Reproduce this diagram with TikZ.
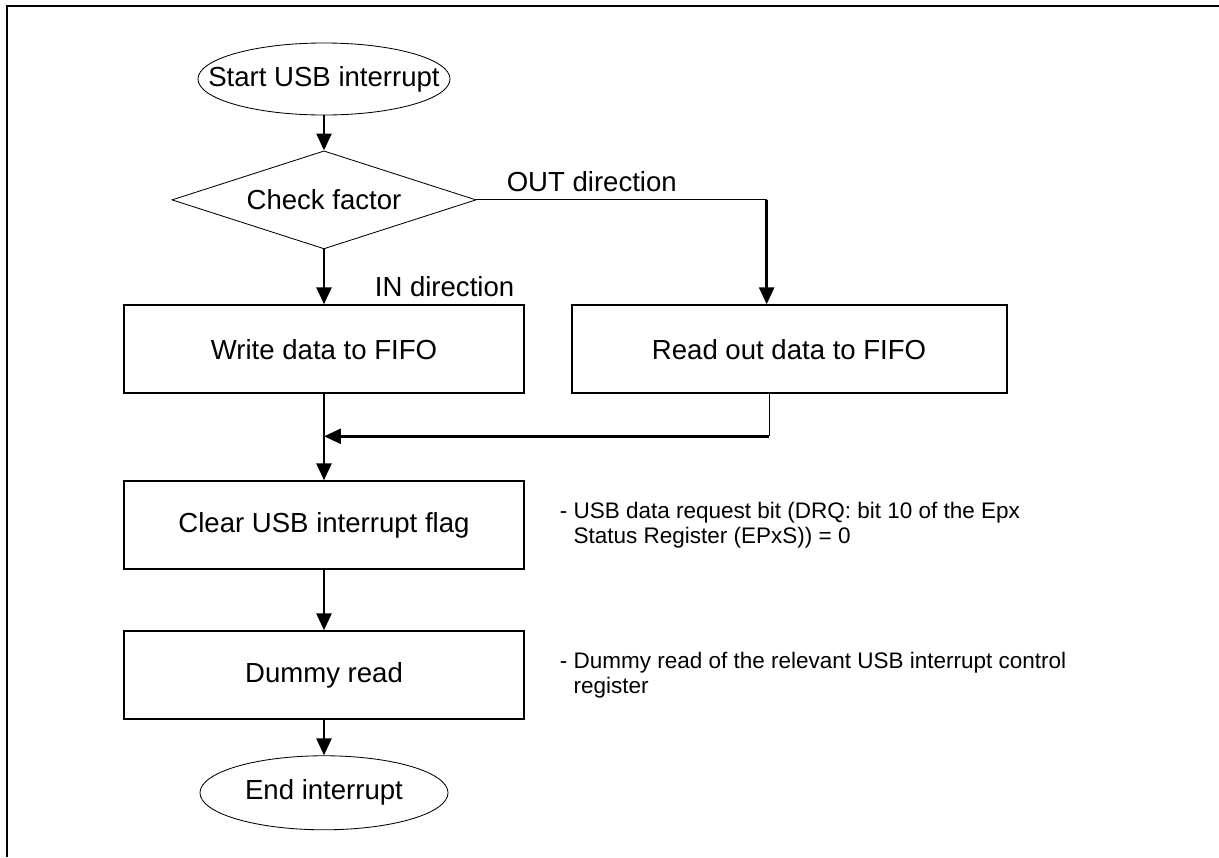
\documentclass[tikz,border=0pt]{standalone}
\usepackage{fontspec}
\setmainfont{Liberation Sans}
\usetikzlibrary{arrows.meta,positioning,shapes.geometric,calc}

\begin{document}
\begin{tikzpicture}[
        x=0.025cm, y=-0.025cm,
        every node/.style={font=\fontsize{19.6}{22}\selectfont},
        proc/.style={draw, line width=1.4pt, minimum width=9.975cm, minimum height=2.2cm, inner sep=0pt},
        term/.style={ellipse, draw, line width=0.6pt, inner sep=0pt},
        decide/.style={diamond, draw, line width=0.6pt, shape aspect=3.1, minimum width=7.6cm, minimum height=2.45cm, inner sep=0pt},
        flow/.style={-{Triangle[length=12pt,width=10.5pt]}, line width=2.1pt},
        feed/.style={line width=0.7pt},
        lbl/.style={inner sep=0pt},
        note/.style={inner sep=0pt, align=left, font=\fontsize{16}{17.4}\selectfont},
        frame/.style={line width=1.6pt}
      ]
        \useasboundingbox (0,0) rectangle (1219,857);
        \draw[frame] (7,857) -- (7,6) -- (1219,6);

        \node[term, minimum width=6.3cm, minimum height=1.8cm] (start) at (324,79) {\makebox[0pt]{Start USB interrupt}};
        \node[decide, below=0.875cm of start] (chk) {Check factor};
        \node[proc, below=1.375cm of chk] (write) {Write data to FIFO};
        \node[proc, right=1.15cm of write, minimum width=10.875cm] (read) {Read out data to FIFO};
        \node[proc, below=2.15cm of write] (clear) {Clear USB interrupt flag};
        \node[proc, below=1.5cm of clear] (dummy) {Dummy read};
        \node[term, below=0.875cm of dummy, minimum width=6.2cm, minimum height=1.85cm] (end) {\makebox[0pt]{End interrupt}};

        \coordinate (outdrop) at ([xshift=-0.56cm]read.north);
        \coordinate (rdrop) at ([xshift=-0.5cm]read.south);
        \coordinate (join) at ($(write.south)!0.488!(clear.north)$);

        \draw[flow] (start) -- (chk);
        \draw[flow] (chk) -- (write);
        \draw[feed] (chk.east) -- (chk.east -| outdrop);
        \draw[flow] (chk.east -| outdrop) -- (outdrop);
        \draw[flow] (write) -- (clear);
        \draw[feed] (rdrop) -- (rdrop |- join);
        \draw[flow] (rdrop |- join) -- (join);
        \draw[flow] (clear) -- (dummy);
        \draw[flow] (dummy) -- (end);

        \node[lbl, anchor=base west] (outlbl) at ([xshift=0.75cm, yshift=0.2cm]chk.east) {OUT direction};
        \node[lbl, anchor=base east] (inlbl) at ([xshift=-0.25cm, yshift=0.2cm]write.north east) {IN direction};
        \node[note, anchor=west] (drqnote) at ([xshift=0.875cm]clear.east) {- USB data request bit (DRQ: bit 10 of the Epx\\\phantom{- }Status Register (EPxS)) = 0};
        \node[note, anchor=west] (rdnote) at ([xshift=0.875cm]dummy.east) {- Dummy read of the relevant USB interrupt control\\\phantom{- }register};
      \end{tikzpicture}
\end{document}
